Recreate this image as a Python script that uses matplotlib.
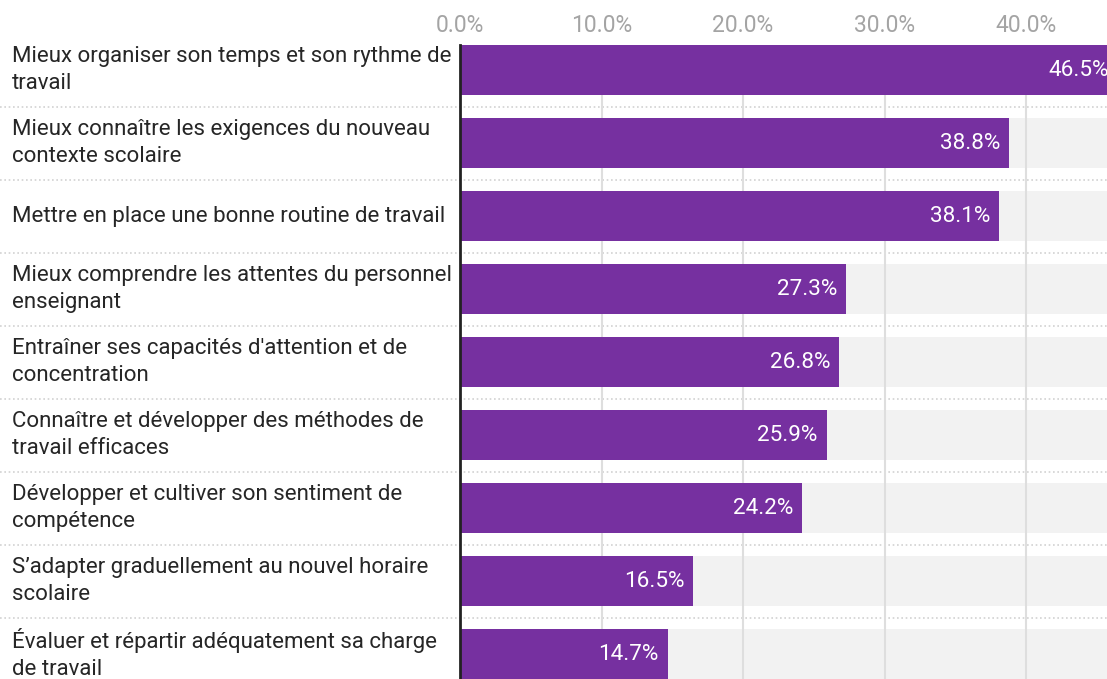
import matplotlib
matplotlib.use("Agg")
import matplotlib.pyplot as plt
import matplotlib.transforms as mtransforms

categories = [
    "Mieux organiser son temps et son rythme de\ntravail",
    "Mieux connaître les exigences du nouveau\ncontexte scolaire",
    "Mettre en place une bonne routine de travail",
    "Mieux comprendre les attentes du personnel\nenseignant",
    "Entraîner ses capacités d'attention et de\nconcentration",
    "Connaître et développer des méthodes de\ntravail efficaces",
    "Développer et cultiver son sentiment de\ncompétence",
    "S\u2019adapter graduellement au nouvel horaire\nscolaire",
    "Évaluer et répartir adéquatement sa charge\nde travail",
]
values = [46.5, 38.8, 38.1, 27.3, 26.8, 25.9, 24.2, 16.5, 14.7]
xticks = [0, 10, 20, 30, 40]
xticklabels = ["0.0%", "10.0%", "20.0%", "30.0%", "40.0%"]

plt.rcParams['font.family'] = ['Roboto', 'DejaVu Sans']

W, H = 1107, 679
fig = plt.figure(figsize=(W / 100, H / 100), dpi=100)
left = 460 / W
top = 1 - 45 / H
ax = fig.add_axes([left, 0, 1 - left, top])

XMAX = 45.72
bar_h = 0.685
ys = list(range(len(values)))

ax.set_xlim(0, XMAX)
ax.set_ylim(8.342, -bar_h / 2)

purple = "#7630A0"
# background bars
ax.barh(ys, [XMAX] * len(ys), height=bar_h, color="#F2F2F2", zorder=1, linewidth=0)
# gridlines
for t in xticks[1:]:
    ax.axvline(t, color="#DEDEDE", lw=1.5, zorder=2)
# value bars
ax.barh(ys, values, height=bar_h, color=purple, zorder=3, linewidth=0)

# value labels
for y, v in zip(ys, values):
    ax.annotate(f"{v:.1f}%", xy=(v, y), xytext=(-6.5, 0), textcoords="offset points",
                ha="right", va="center", color="white", fontsize=16.2, zorder=5,
                annotation_clip=False)

# category labels
trans = mtransforms.blended_transform_factory(fig.transFigure, ax.transData)
for y, c in zip(ys, categories):
    fig.text(12 / W, y, c, transform=trans, ha="left", va="center",
             fontsize=16, color="#262626", linespacing=1.36)

# dotted separators
ax_left_frac = -left / (1 - left)
sep_trans = mtransforms.blended_transform_factory(ax.transAxes, ax.transData)
for i in range(len(ys) - 1):
    ax.plot([ax_left_frac, 1], [i + 0.5, i + 0.5], transform=sep_trans,
            color="#D2D2D2", lw=1.2, ls=(0, (1.0, 1.6)), clip_on=False, zorder=0)

# axes styling
for s in ["top", "right", "bottom"]:
    ax.spines[s].set_visible(False)
ax.spines["left"].set_color("#222222")
ax.spines["left"].set_linewidth(2)
ax.spines["left"].set_zorder(6)
ax.set_yticks([])
ax.set_xticks(xticks)
ax.set_xticklabels(xticklabels)
ax.xaxis.tick_top()
ax.tick_params(axis="x", length=0, pad=6, labelsize=16.5, labelcolor="#A4A4A4")

fig.savefig("out.png", dpi=100)
